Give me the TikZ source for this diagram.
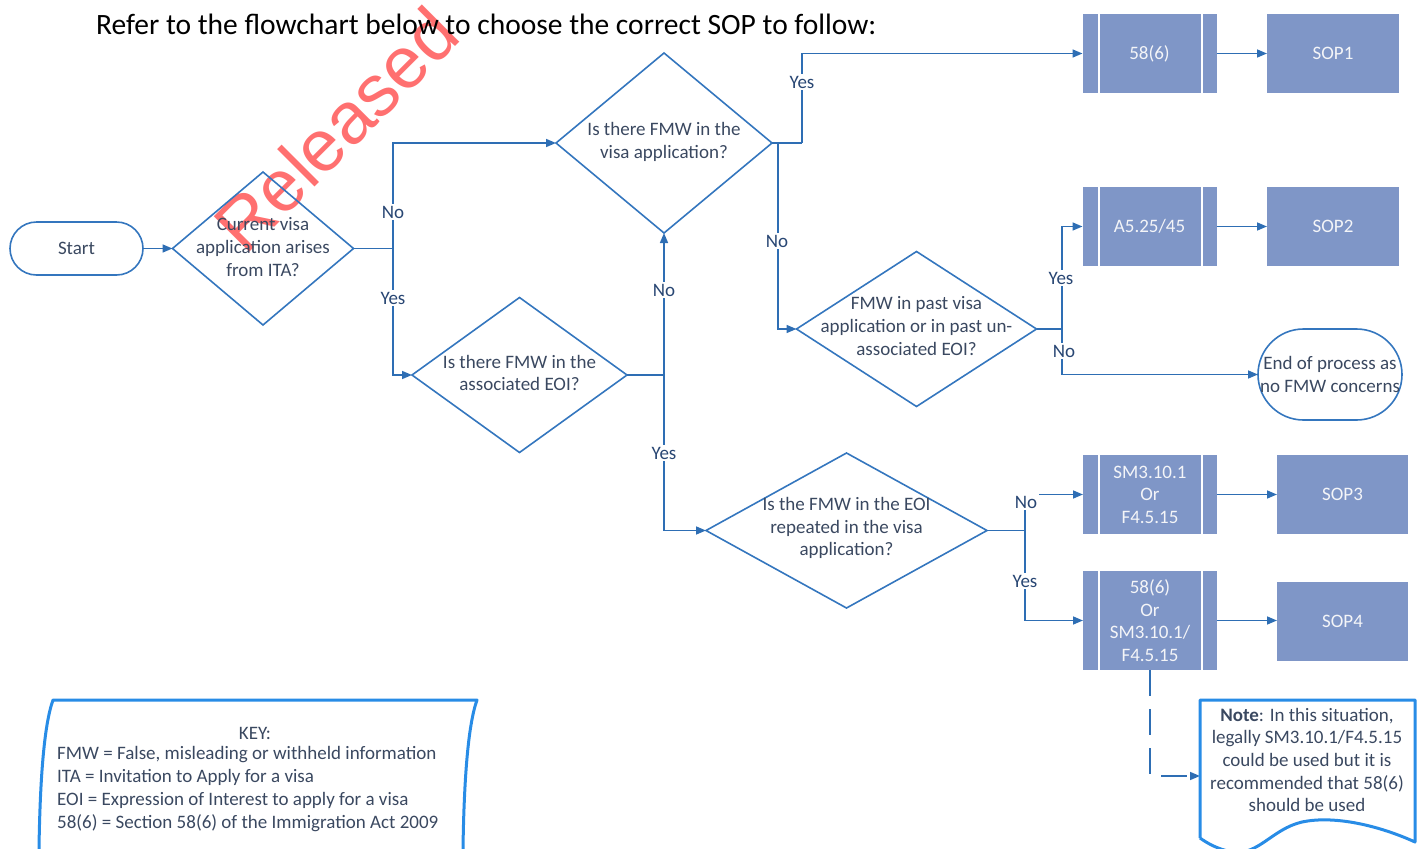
\documentclass[tikz,border=0pt]{standalone}
\usepackage{fontspec}
\setmainfont{Carlito}
\newfontfamily\wmfont{Liberation Sans}
\usetikzlibrary{shapes.geometric,arrows.meta,calc}
\definecolor{lineblue}{RGB}{46,110,180}
\definecolor{diablue}{RGB}{52,118,190}
\definecolor{txt}{RGB}{58,72,96}
\definecolor{lblc}{RGB}{40,70,115}
\definecolor{boxfill}{RGB}{127,150,199}
\definecolor{boxtxt}{RGB}{244,245,248}
\definecolor{brightblue}{RGB}{40,140,230}
\definecolor{wm}{RGB}{255,112,112}
\begin{document}
\begin{tikzpicture}[x=1pt,y=-1pt,
  dia/.style={diamond, draw=diablue, line width=1.6pt, inner sep=0pt, outer sep=0pt},
  dtext/.style={text=txt, font=\fontsize{19}{22.7}\selectfont, align=center, inner sep=0pt},
  lbl/.style={text=lblc, font=\fontsize{19}{22}\selectfont, fill=white, inner sep=1.5pt},
  term/.style={draw=diablue, line width=1.6pt, inner sep=0pt, outer sep=0pt, text=txt, font=\fontsize{19}{22.5}\selectfont, align=center},
  conn/.style={draw=lineblue, line width=1.6pt, -{Triangle[length=10pt,width=8pt]}},
  pline/.style={draw=lineblue, line width=1.6pt},
  pbox/.style={fill=boxfill, minimum width=134pt, minimum height=79pt, inner sep=0pt, outer sep=0pt, text=boxtxt, font=\fontsize{19}{22.5}\selectfont, align=center,
    path picture={
      \draw[white, line width=2pt] ([xshift=16pt]path picture bounding box.north west) -- ([xshift=16pt]path picture bounding box.south west);
      \draw[white, line width=2pt] ([xshift=-15pt]path picture bounding box.north east) -- ([xshift=-15pt]path picture bounding box.south east);}},
  sbox/.style={fill=boxfill, minimum width=132pt, minimum height=79pt, inner sep=0pt, outer sep=0pt, text=boxtxt, font=\fontsize{19}{22.5}\selectfont, align=center},
  bdr/.style={draw=brightblue, line width=3pt, line join=round}
]
\useasboundingbox (0,0) rectangle (1417,849);

% watermark (behind)
\node[rotate=45, anchor=base west, inner sep=0pt, text=wm, font=\wmfont\fontsize{73}{73}\selectfont] (wmark) at (245,257) {Released};

% title
\node[anchor=west, inner sep=0pt, font=\fontsize{29.5}{34}\selectfont] (title) at (96,24) {Refer to the flowchart below to choose the correct SOP to follow:};

% start
\node[term, rounded corners=26.5pt, minimum width=133pt, minimum height=53pt] (start) at (76.5,248.5) {Start};

% diamonds
\node[dia, minimum width=181pt, minimum height=153pt] (d1) at (263,248.5) {};
\node[dtext] (d1t) at (263,247) {Current visa\\application arises\\from ITA?};
\node[dia, minimum width=216pt, minimum height=180pt] (d2) at (664,143) {};
\node[dtext] (d2t) at (664,142) {Is there FMW in the\\visa application?};
\node[dia, minimum width=215pt, minimum height=155pt] (d3) at (519.5,375) {};
\node[dtext] (d3t) at (519.5,373) {Is there FMW in the\\associated EOI?};
\node[dia, minimum width=281pt, minimum height=155pt] (d4) at (846.5,530.5) {};
\node[dtext] (d4t) at (846.5,528) {Is the FMW in the EOI\\repeated in the visa\\application?};
\node[dia, minimum width=240pt, minimum height=155pt] (d5) at (916.5,329) {};
\node[dtext] (d5t) at (916.5,326) {FMW in past visa\\application or in past un-\\associated EOI?};

% process boxes
\node[pbox] (b1) at (1149.5,53.5) {58(6)};
\node[sbox] (s1) at (1333,53.5) {SOP1};
\node[pbox] (b2) at (1149.5,226.5) {A5.25/45};
\node[sbox] (s2) at (1333,226.5) {SOP2};
\node[pbox] (b3) at (1150,494.5) {SM3.10.1\\Or\\F4.5.15};
\node[sbox, minimum width=131pt] (s3) at (1342.5,494.5) {SOP3};
\node[pbox, minimum height=99pt] (b4) at (1150,620.5) {58(6)\\Or\\SM3.10.1/\\F4.5.15};
\node[sbox, minimum width=131pt] (s4) at (1342.5,621.5) {SOP4};

% end terminator
\node[term, rounded corners=45.5pt, minimum width=144pt, minimum height=91pt] (end) at (1330,374.5) {End of process as\\no FMW concerns};

% junctions
\coordinate (j1) at (393,248.5);
\coordinate (j2) at (664,375);
\coordinate (j3a) at (802,143);
\coordinate (j3b) at (778,143);
\coordinate (j5) at (1062,329);
\coordinate (j4) at (1025,530.5);
\coordinate (nin) at (1200,776);

% connectors
\draw[conn] (start.east) -- (d1.west);
\draw[pline] (d1.east) -- (j1);
\draw[conn] (j1) |- (d2.west);
\draw[conn] (j1) |- (d3.west);
\draw[pline] (d3.east) -- (j2);
\draw[conn] (j2) -- (d2.south);
\draw[conn] (j2) |- (d4.west);
\draw[pline] (d2.east) -- (j3a);
\draw[conn] (j3a) |- (b1.west);
\draw[conn] (j3b) |- (d5.west);
\draw[pline] (d5.east) -- (j5);
\draw[conn] (j5) |- (b2.west);
\draw[conn] (j5) |- (end.west);
\draw[pline] (d4.east) -- (j4);
\draw[conn] (j4) |- (b3.west);
\draw[conn] (j4) |- (b4.west);
\draw[conn] (b1.east) -- (s1.west);
\draw[conn] (b2.east) -- (s2.west);
\draw[conn] (b3.east) -- (s3.west);
\draw[conn] (b4.east) -- (b4.east -| s4.west);
\draw[conn, dash pattern=on 26pt off 13pt] (b4.south) |- (nin);

% labels
\node[lbl] (l1) at (393,212) {No};
\node[lbl] (l2) at (393,298) {Yes};
\node[lbl] (l3) at (664,290) {No};
\node[lbl] (l4) at (664,453) {Yes};
\node[lbl] (l5) at (802,82) {Yes};
\node[lbl] (l6) at (777,241) {No};
\node[lbl] (l7) at (1061,278) {Yes};
\node[lbl] (l8) at (1064,351) {No};
\node[lbl] (l9) at (1026,502) {No};
\node[lbl] (l10) at (1025,581) {Yes};

% note (document shape)
\draw[bdr] (1200,838) -- (1200,700) -- (1415,700) -- (1415,842)
  .. controls (1380,826) and (1335,815) .. (1302,822)
  .. controls (1272,829) and (1258,856) .. (1232,852)
  .. controls (1217,849) and (1207,843) .. (1200,838);
\node[dtext] (note) at (1307,760) {\textbf{Note}: In this situation,\\legally SM3.10.1/F4.5.15\\could be used but it is\\recommended that 58(6)\\should be used};

% key
\draw[bdr] (39,849) .. controls (40,780) and (44,725) .. (53,700) -- (477,700) .. controls (468,725) and (464,780) .. (463,849);
\node[dtext] (keyh) at (255,733) {KEY:};
\node[dtext, align=left, anchor=west] (keyb) at (57,789) {FMW = False, misleading or withheld information\\ITA = Invitation to Apply for a visa\\EOI = Expression of Interest to apply for a visa\\58(6) = Section 58(6) of the Immigration Act 2009};
\end{tikzpicture}
\end{document}
